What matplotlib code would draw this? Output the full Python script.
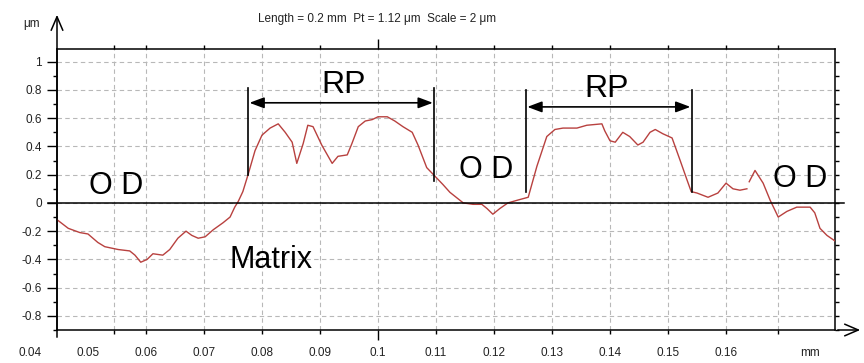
import numpy as np
import matplotlib
matplotlib.use("Agg")
import matplotlib.pyplot as plt

plt.rcParams['font.family'] = ['Liberation Sans', 'DejaVu Sans']

#-------------------------------------------------------------------------
#   Profile data
#-------------------------------------------------------------------------

x_mm = [0.0447, 0.0466, 0.0486, 0.0500, 0.0517, 0.0529, 0.0552, 0.0572, 0.0581, 0.0591,
        0.0602, 0.0612, 0.0629, 0.0641, 0.0655, 0.0669, 0.0679, 0.0690, 0.0702, 0.0716,
        0.0733, 0.0745, 0.0753, 0.0759, 0.0767, 0.0776, 0.0788, 0.0800, 0.0814, 0.0828,
        0.0840, 0.0852, 0.0860, 0.0871, 0.0879, 0.0888, 0.0903, 0.0921, 0.0931, 0.0947,
        0.0955, 0.0966, 0.0978, 0.0990, 0.1000, 0.1016, 0.1029, 0.1043, 0.1059, 0.1069,
        0.1084, 0.1098, 0.1112, 0.1124, 0.1147, 0.1164, 0.1179, 0.1188, 0.1198, 0.1210,
        0.1224, 0.1241, 0.1259, 0.1274, 0.1291, 0.1305, 0.1319, 0.1343, 0.1360, 0.1386,
        0.1391, 0.1400, 0.1409, 0.1422, 0.1434, 0.1448, 0.1457, 0.1469, 0.1478, 0.1491,
        0.1507, 0.1521, 0.1533, 0.1540, 0.1550, 0.1569, 0.1586, 0.1600, 0.1612, 0.1624,
        0.1636, 0.1638, 0.1640, 0.1650, 0.1664, 0.1676, 0.1690, 0.1705, 0.1722, 0.1745,
        0.1753, 0.1762, 0.1774, 0.1788]

nan = float('nan')
z_um = [-0.12, -0.18, -0.21, -0.22, -0.28, -0.31, -0.33, -0.34, -0.37, -0.42,
        -0.40, -0.36, -0.37, -0.33, -0.25, -0.20, -0.23, -0.25, -0.24, -0.19,
        -0.14, -0.10, -0.03, 0.01, 0.08, 0.20, 0.37, 0.48, 0.53, 0.56,
        0.50, 0.43, 0.28, 0.42, 0.55, 0.54, 0.41, 0.28, 0.33, 0.34,
        0.42, 0.54, 0.58, 0.59, 0.61, 0.61, 0.58, 0.54, 0.50, 0.41,
        0.25, 0.19, 0.13, 0.075, 0.0, -0.01, -0.01, -0.04, -0.08, -0.04,
        0.0, 0.02, 0.04, 0.26, 0.47, 0.52, 0.53, 0.53, 0.55, 0.56,
        0.51, 0.44, 0.43, 0.50, 0.47, 0.41, 0.43, 0.50, 0.52, 0.49,
        0.46, 0.30, 0.16, 0.08, 0.07, 0.04, 0.07, 0.14, 0.10, 0.09,
        0.10, nan, 0.15, 0.23, 0.14, 0.02, -0.10, -0.06, -0.03, -0.03,
        -0.07, -0.18, -0.23, -0.27]

# axis labels / grid
x_labels = ['0.04', '0.05', '0.06', '0.07', '0.08', '0.09', '0.1', '0.11',
            '0.12', '0.13', '0.14', '0.15', '0.16']
x_label_pos = [0.04, 0.05, 0.06, 0.07, 0.08, 0.09, 0.10, 0.11, 0.12, 0.13, 0.14, 0.15, 0.16]
x_grid = [0.0545, 0.06, 0.07, 0.08, 0.09, 0.10, 0.11, 0.12, 0.13, 0.14, 0.15, 0.16, 0.169]
y_ticks = [-0.8, -0.6, -0.4, -0.2, 0, 0.2, 0.4, 0.6, 0.8, 1]
y_labels = ['-0.8', '-0.6', '-0.4', '-0.2', '0', '0.2', '0.4', '0.6', '0.8', '1']

# RP brackets: (left x, right x, arrow y, bar top, left bar bottom, right bar bottom)
rp_left = (0.0776, 0.1097, 0.709, 0.815, 0.198, 0.156)
rp_right = (0.1255, 0.1541, 0.680, 0.80, 0.078, 0.078)

#-------------------------------------------------------------------------
#   Figure
#-------------------------------------------------------------------------

fig = plt.figure(figsize=(8.64, 3.63), dpi=100)
ax = fig.add_axes([57/864, 33/363, 778/864, 281/363])

ax.set_xlim(0.04466, 0.17879)
ax.set_ylim(-0.9, 1.09)

# dashed grid
for gx in x_grid:
    ax.axvline(gx, color="#b8b8b8", linestyle=(0, (4, 3)), linewidth=0.8, zorder=0)
for gy in y_ticks:
    ax.axhline(gy, color="#b8b8b8", linestyle=(0, (4, 3)), linewidth=0.8, zorder=0)

# profile
ax.plot(x_mm, z_um, color="#b8413f", linewidth=1.0, zorder=3)

# spines
for s in ax.spines.values():
    s.set_linewidth(1.1)
    s.set_color("black")

# ticks
ax.set_xticks([0.10])
ax.set_xticks([g for g in x_grid if g != 0.10], minor=True)
ax.set_xticklabels([])
ax.tick_params(axis='x', which='major', direction='out', length=7, width=1, top=True)
ax.tick_params(axis='x', which='minor', direction='out', length=3, width=1, top=True)

ax.set_yticks(y_ticks)
ax.set_yticklabels(y_labels, fontsize=8.5, color="#222222")
ax.set_yticks(np.arange(-0.9, 1.05, 0.1), minor=True)
ax.tick_params(axis='y', which='major', direction='out', length=7, width=1, pad=4,
               right=True)
ax.tick_params(axis='y', which='minor', direction='out', length=3, width=1, right=True)
for t in ax.yaxis.get_major_ticks():
    t.tick2line.set_markersize(3)

# x tick labels (some sit left of the frame)
xtrans = ax.get_xaxis_transform()
for xv, lab in zip(x_label_pos, x_labels):
    ax.text(xv, -0.082, lab, transform=xtrans, ha='center', va='center',
            fontsize=8.5, color="#222222", clip_on=False)
ax.text(0.1745, -0.082, "mm", transform=xtrans, ha='center', va='center',
        fontsize=8.5, color="#222222", clip_on=False)

# zero line, extended a bit past both sides
ytrans = ax.get_yaxis_transform()
ax.plot([-0.012, 1.012], [0, 0], transform=ytrans, color="black", linewidth=1.1,
        clip_on=False, zorder=4)

# axis arrows
ax.annotate('', xy=(57/864, 1 - 12/363), xytext=(57/864, 1 - 340/363),
            xycoords='figure fraction', textcoords='figure fraction',
            arrowprops=dict(arrowstyle='->,head_length=0.7,head_width=0.3',
                            color='black', lw=1.1, mutation_scale=14))
ax.annotate('', xy=(863/864, 33/363), xytext=(835/864, 33/363),
            xycoords='figure fraction', textcoords='figure fraction',
            arrowprops=dict(arrowstyle='->,head_length=0.7,head_width=0.3',
                            color='black', lw=1.1, mutation_scale=14))

# RP brackets
for xl, xr, ya, ytop, ybl, ybr in [rp_left, rp_right]:
    ax.plot([xl, xl], [ybl, ytop], color="black", linewidth=1.2, zorder=4)
    ax.plot([xr, xr], [ybr, ytop], color="black", linewidth=1.2, zorder=4)
    ax.annotate('', xy=(xr, ya), xytext=(xl, ya),
                arrowprops=dict(arrowstyle='<|-|>,head_length=0.8,head_width=0.3',
                                color='black', lw=1.2, mutation_scale=11,
                                shrinkA=1, shrinkB=1))

# labels in the plot
ax.text(0.094, 0.836, "RP", ha='center', va='center', fontsize=23)
ax.text(0.1395, 0.805, "RP", ha='center', va='center', fontsize=23)
ax.text(0.0548, 0.12, "O D", ha='center', va='center', fontsize=22)
ax.text(0.1186, 0.234, "O D", ha='center', va='center', fontsize=22)
ax.text(0.1728, 0.17, "O D", ha='center', va='center', fontsize=22)
ax.text(0.0816, -0.407, "Matrix", ha='center', va='center', fontsize=22)

# header texts
fig.text(377/864, 1 - 19/363, "Length = 0.2 mm  Pt = 1.12 μm  Scale = 2 μm",
         ha='center', va='center', fontsize=8.5, color="#222222")
fig.text(32/864, 1 - 24/363, "μm", ha='center', va='center', fontsize=8.5,
         color="#222222")

fig.savefig("out.png", dpi=100)
